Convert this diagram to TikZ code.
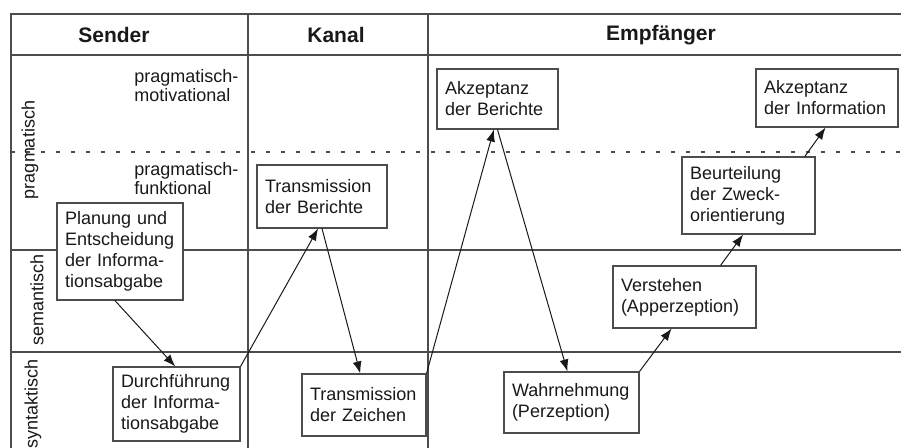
\documentclass[tikz,border=0pt]{standalone}
\usepackage{fontspec}
\setmainfont{Liberation Sans}
\usetikzlibrary{arrows.meta,calc}
\definecolor{linecol}{gray}{0.3}
\definecolor{textcol}{gray}{0.1}
\tikzset{
    box/.style={draw=linecol,fill=white,line width=0.55pt,align=left,inner xsep=4pt,inner ysep=2pt,text=textcol,font=\fontsize{9}{10.5}\selectfont},
    head/.style={text=textcol,font=\fontsize{10.5}{12}\selectfont\bfseries},
    layer/.style={rotate=90,text=textcol,font=\fontsize{9}{11}\selectfont},
    sublabel/.style={anchor=west,align=left,inner sep=0pt,text=textcol,font=\fontsize{9}{9.5}\selectfont},
    arr/.style={draw=textcol,line width=0.5pt,-{Latex[length=6pt,width=4.5pt]}},
    grid/.style={draw=linecol,line width=0.55pt}
}
\begin{document}
\begin{tikzpicture}[x=0.5pt,y=-0.5pt]
        \useasboundingbox (0,0) rectangle (901,448);
        \draw[grid] (11,448) -- (11,14) -- (901,14);
        \draw[grid] (11,55) -- (901,55);
        \draw[grid] (248,14) -- (248,448);
        \draw[grid] (428,14) -- (428,448);
        \draw[grid,dash pattern=on 2pt off 5.5pt] (11,152) -- (901,152);
        \draw[grid] (11,250) -- (901,250);
        \draw[grid] (11,352) -- (901,352);

        \node[head] (sender) at (114,35) {Sender};
        \node[head] (kanal) at (336,35) {Kanal};
        \node[head] (empf) at (661,35) {Empfänger};

        \node[layer] (prag) at (30,150) {pragmatisch};
        \node[layer] (sem) at (37,300) {semantisch};
        \node[layer] (syn) at (33,404) {syntaktisch};
        \node[sublabel] (motiv) at (134,86) {pragmatisch-\\motivational};
        \node[sublabel] (funkt) at (134,179) {pragmatisch-\\funktional};

        \node[box,text width=55pt,minimum height=48.5pt] (plan) at (120,251.5) {Planung und\\Entscheidung\\der Informa-\\tionsabgabe};
        \node[box,text width=55.5pt,minimum height=37pt] (durch) at (176.5,404) {Durchführung\\der Informa-\\tionsabgabe};
        \node[box,text width=57pt,minimum height=31.5pt] (tber) at (322,196.5) {Transmission\\der Berichte};
        \node[box,text width=54pt,minimum height=31pt] (tzei) at (364,405) {Transmission\\der Zeichen};
        \node[box,text width=52.5pt,minimum height=30pt] (aber) at (497.5,99) {Akzeptanz\\der Berichte};
        \node[box,text width=59.5pt,minimum height=30.5pt] (wahr) at (571.5,402.5) {Wahrnehmung\\(Perzeption)};
        \node[box,text width=63.5pt,minimum height=31pt] (vers) at (684.5,297) {Verstehen\\(Apperzeption)};
        \node[box,text width=58.5pt,minimum height=38.5pt] (beur) at (748.5,195.5) {Beurteilung\\der Zweck-\\orientierung};
        \node[box,text width=63pt,minimum height=29pt] (ainf) at (827,98) {Akzeptanz\\der Information};

        \draw[arr] ($(plan.south west)!.46!(plan.south east)$) -- ($(durch.north west)!.49!(durch.north east)$);
        \draw[arr] (durch.north east) -- ($(tber.south west)!.47!(tber.south east)$);
        \draw[arr] ($(tber.south west)!.5!(tber.south east)$) -- ($(tzei.north west)!.47!(tzei.north east)$);
        \draw[arr] (tzei.north east) -- ($(aber.south west)!.47!(aber.south east)$);
        \draw[arr] ($(aber.south west)!.5!(aber.south east)$) -- ($(wahr.north west)!.47!(wahr.north east)$);
        \draw[arr] (wahr.north east) -- ($(vers.south west)!.41!(vers.south east)$);
        \draw[arr] ($(vers.north west)!.75!(vers.north east)$) -- ($(beur.south west)!.46!(beur.south east)$);
        \draw[arr] ($(beur.north west)!.92!(beur.north east)$) -- ($(ainf.south west)!.49!(ainf.south east)$);
\end{tikzpicture}
\end{document}
